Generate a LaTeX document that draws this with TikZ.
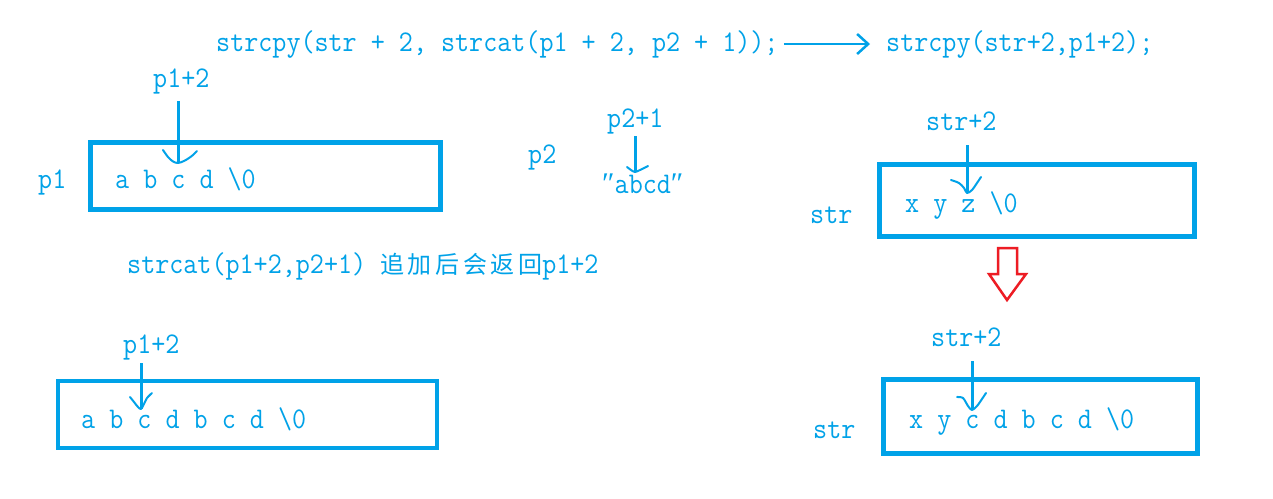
\documentclass[tikz,border=0pt]{standalone}
\usepackage{fontspec}
\usetikzlibrary{arrows.meta}
\newfontfamily\codefont{Latin Modern Mono}[FakeStretch=0.91]
\newfontfamily\qfont{Liberation Serif}
\newfontfamily\cjk{Noto Sans CJK SC}[LetterSpace=15]
\definecolor{pblue}{HTML}{00A2E8}
\definecolor{pred}{HTML}{ED1C24}
\begin{document}
\begin{tikzpicture}[x=1pt,y=-1pt,
  txt/.style={anchor=base west, inner sep=0pt, text=pblue, font=\codefont\fontsize{30}{32}\selectfont},
  box/.style={draw=pblue, line width=5pt, inner sep=0pt},
  thinbox/.style={box, line width=4pt},
  ptr/.style={draw=pblue, line width=3pt},
  hook/.style={draw=pblue, line width=2pt, line cap=round, line join=round},
  flow/.style={draw=pblue, line width=2.5pt, -{Straight Barb[length=11pt,width=20pt,line width=2.5pt]}},
  bigarrow/.style={draw=pred, line width=2.5pt, line join=miter, fill=white},
]
\fill[white] (0,0) rectangle (1273,498);
\useasboundingbox (0,0) rectangle (1273,498);

% top code lines
\node[txt] (code1) at (216,51) {strcpy(str + 2, strcat(p1 + 2, p2 + 1));};
\node[txt] (code2) at (886,51) {strcpy(str+2,p1+2);};
\draw[flow, shorten <=5pt, shorten >=16pt] (code1.east) -- (code2.west);

% p1 box (top left)
\node[box, minimum width=350pt, minimum height=67pt] (b1) at (265.5,176) {};
\node[txt] (p1) at (38,188) {p1};
\node[txt] (b1t) at (115,188) {a b c d \textbackslash0};
\node[txt] (p1a) at (153,87) {p1+2};
\coordinate (t1) at (178,163);
\draw[ptr] (p1a.base -| t1) ++(0,14) -- (t1);
\begin{scope}[shift={(t1)}]
\draw[hook] plot[smooth] coordinates {(-15,-13) (-10,-6) (-5,-1.5) (0,0) (6,-2) (11,-5) (15,-8) (19,-12)};
\end{scope}

% p2
\node[txt] (p2) at (528,163) {p2};
\node[txt] (p2a) at (607,127) {p2+1};
\node[txt] (s2) at (602,193) {{\qfont ″}abcd{\qfont ″}};
\coordinate (t2) at (635,172);
\draw[ptr] (p2a.base -| t2) ++(0,9) -- (t2);
\begin{scope}[shift={(t2)}]
\draw[hook] plot[smooth] coordinates {(-8,-5) (-4,-2) (0,0) (5,-2) (9,-4) (13,-6)};
\end{scope}

% str box (top right)
\node[box, minimum width=315pt, minimum height=72pt] (b2) at (1037,200.5) {};
\node[txt] (str1) at (810,223) {str};
\node[txt] (b2t) at (905,212) {x y z \textbackslash0};
\node[txt] (s1a) at (926,130) {str+2};
\coordinate (t3) at (967,193);
\draw[ptr] (s1a.base -| t3) ++(0,15) -- (t3);
\begin{scope}[shift={(t3)}]
\draw[hook] plot[smooth] coordinates {(-16,-13) (-8,-10) (-3,-5) (0,0) (5,-3) (10,-10) (14,-16)};
\end{scope}

% red block arrow
\draw[bigarrow] (998,248) -- (1017,248) -- (1017,274) -- (1026,274) -- (1007,300) -- (989,274) -- (998,274) -- cycle;

% note
\node[txt] (note) at (127,273) {strcat(p1+2,p2+1) {\cjk\fontsize{24}{30}\selectfont 追加后会返回}p1+2};

% bottom left box
\node[thinbox, minimum width=379pt, minimum height=67pt] (b3) at (247.5,414.5) {};
\node[txt] (b3t) at (81,428) {a b c d b c d \textbackslash0};
\node[txt] (p1b) at (123,353) {p1+2};
\coordinate (t4) at (141,409);
\draw[ptr] (p1b.base -| t4) ++(0,10) -- (t4);
\begin{scope}[shift={(t4)}]
\draw[hook] plot[smooth] coordinates {(-11,-12) (-7,-7) (-3,-2) (0,0) (3,-5) (6,-11) (11,-16)};
\end{scope}

% bottom right box
\node[box, minimum width=314pt, minimum height=74pt] (b4) at (1040.5,416.5) {};
\node[txt] (str2) at (813,438) {str};
\node[txt] (b4t) at (909,428) {x y c d b c d \textbackslash0};
\node[txt] (s2a) at (931,346) {str+2};
\coordinate (t5) at (972,410);
\draw[ptr] (s2a.base -| t5) ++(0,15) -- (t5);
\begin{scope}[shift={(t5)}]
\draw[hook] plot[smooth] coordinates {(-15,-13) (-9,-12) (-4,-4) (0,0) (5,-4) (10,-11) (14,-17)};
\end{scope}
\end{tikzpicture}
\end{document}
